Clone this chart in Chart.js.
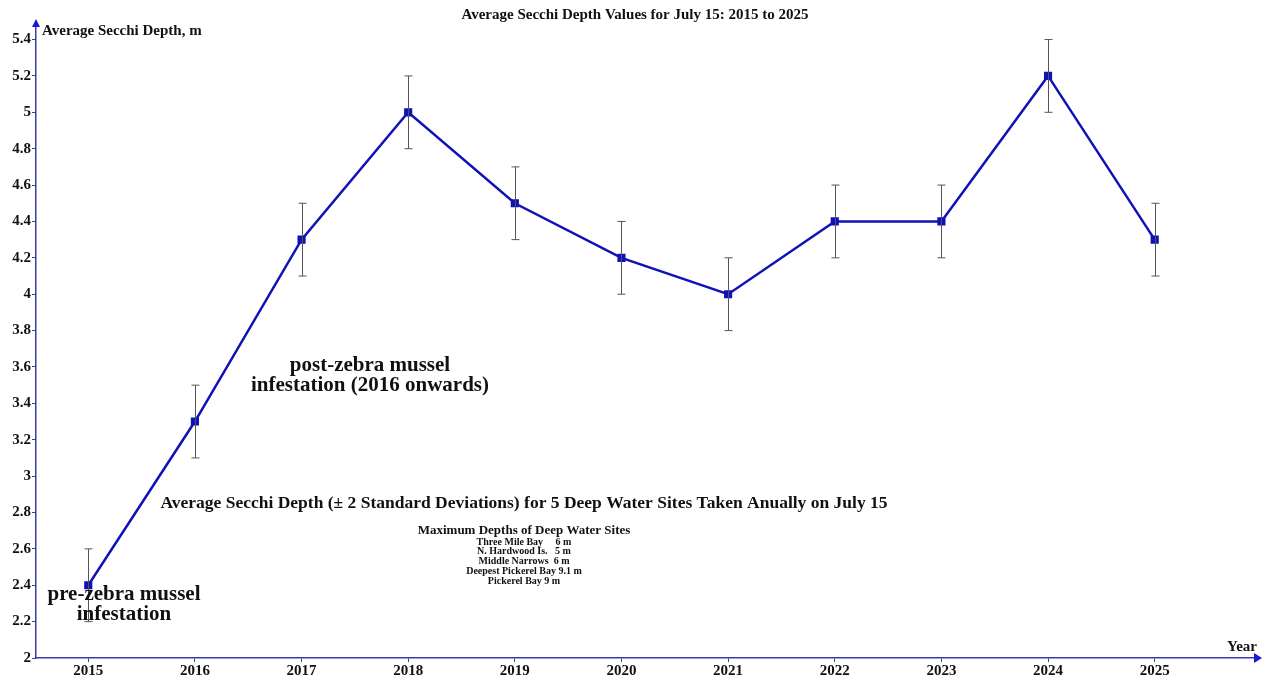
<!DOCTYPE html>
<html>
<head>
<meta charset="utf-8">
<script src="https://cdn.jsdelivr.net/npm/chart.js@4.4.1/dist/chart.umd.min.js"></script>
<style>
  html, body { margin: 0; padding: 0; background: #fff; }
  #wrap { width: 1264px; height: 679px; }
</style>
</head>
<body>
<div id="wrap"><canvas id="secchi" width="1264" height="679"></canvas></div>
<script>
// yearly averages
const years = [2015, 2016, 2017, 2018, 2019, 2020, 2021, 2022, 2023, 2024, 2025];
const depths = [2.4, 3.3, 4.3, 5.0, 4.5, 4.2, 4.0, 4.4, 4.4, 5.2, 4.3];
// half-length of the error bars (2 SD)
const errors = [0.2, 0.2, 0.2, 0.2, 0.2, 0.2, 0.2, 0.2, 0.2, 0.2, 0.2];
const depthTicks = [2, 2.2, 2.4, 2.6, 2.8, 3, 3.2, 3.4, 3.6, 3.8, 4, 4.2, 4.4, 4.6, 4.8, 5, 5.2, 5.4];
const siteLines = [
  "Three Mile Bay     6 m",
  "N. Hardwood Is.   5 m",
  "Middle Narrows  6 m",
  "Deepest Pickerel Bay 9.1 m",
  "Pickerel Bay 9 m"
];

const axisBlue = "#3a3aa8";
const serif = "'Liberation Serif', 'DejaVu Serif', serif";

//error bars, arrows and all the free text
const extras = {
  id: "extras",
  afterDatasetsDraw(chart) {
    const ctx = chart.ctx;
    const xs = chart.scales.x, ys = chart.scales.y;
    ctx.save();
    // error bars
    ctx.strokeStyle = "#555";
    ctx.lineWidth = 1;
    years.forEach((yr, i) => {
      const px = Math.round(xs.getPixelForValue(yr)) + 0.5;
      const top = ys.getPixelForValue(depths[i] + errors[i]);
      const bot = ys.getPixelForValue(depths[i] - errors[i]);
      ctx.beginPath();
      ctx.moveTo(px, top); ctx.lineTo(px, bot);
      ctx.moveTo(px - 4, top); ctx.lineTo(px + 4, top);
      ctx.moveTo(px - 4, bot); ctx.lineTo(px + 4, bot);
      ctx.stroke();
    });
    ctx.restore();
  },
  afterDraw(chart) {
    const ctx = chart.ctx;
    const area = chart.chartArea;
    ctx.save();
    // axis arrows
    ctx.fillStyle = "#1a1ad0";
    ctx.beginPath();
    ctx.moveTo(area.left, area.top - 6);
    ctx.lineTo(area.left - 4, area.top + 2);
    ctx.lineTo(area.left + 4, area.top + 2);
    ctx.closePath(); ctx.fill();
    ctx.beginPath();
    ctx.moveTo(area.right + 6, area.bottom);
    ctx.lineTo(area.right - 2, area.bottom - 5);
    ctx.lineTo(area.right - 2, area.bottom + 5);
    ctx.closePath(); ctx.fill();

    ctx.fillStyle = "#111";
    ctx.textBaseline = "middle";
    // title
    ctx.textAlign = "center";
    ctx.font = "bold 15px " + serif;
    ctx.fillText("Average Secchi Depth Values for July 15: 2015 to 2025", 635, 15);
    // axis titles
    ctx.textAlign = "left";
    ctx.fillText("Average Secchi Depth, m", 42, 31);
    ctx.textAlign = "right";
    ctx.fillText("Year", 1257, 647);

    // annotations
    ctx.textAlign = "center";
    ctx.font = "bold 21px " + serif;
    ctx.fillText("post-zebra mussel", 370, 366);
    ctx.fillText("infestation (2016 onwards)", 370, 386);
    ctx.fillText("pre-zebra mussel", 124, 595);
    ctx.fillText("infestation", 124, 615);

    ctx.font = "bold 17.5px " + serif;
    ctx.fillText("Average Secchi Depth (\u00b1 2 Standard Deviations) for 5 Deep Water Sites Taken Anually on July 15", 524, 503, 732);

    ctx.font = "bold 13px " + serif;
    ctx.fillText("Maximum Depths of Deep Water Sites", 524, 531);
    ctx.font = "bold 10px " + serif;
    siteLines.forEach((t, i) => ctx.fillText(t, 524, 542 + i * 9.8));
    ctx.restore();
  }
};

const tickFont = { family: serif, size: 15, weight: "bold" };

new Chart(document.getElementById("secchi"), {
  type: "line",
  plugins: [extras],
  data: {
    datasets: [{
      data: years.map((y, i) => ({ x: y, y: depths[i] })),
      borderColor: "#1111b8",
      borderWidth: 2.5,
      pointStyle: "rect",
      pointRadius: 4,
      pointBackgroundColor: "#1111b8",
      pointBorderColor: "#1111b8",
      tension: 0
    }]
  },
  options: {
    responsive: false,
    animation: false,
    layout: { padding: { top: 25, right: 8, left: 0, bottom: 0 } },
    plugins: { legend: { display: false }, tooltip: { enabled: false }, title: { display: false } },
    scales: {
      x: {
        type: "linear",
        min: 2014.51,
        max: 2025.95,
        afterBuildTicks: (s) => { s.ticks = years.map(v => ({ value: v })); },
        afterFit: (s) => { s.height = 21; },
        ticks: { color: "#111", font: tickFont, padding: 0, maxRotation: 0, autoSkip: false,
                 callback: (v) => String(v) },
        grid: { drawOnChartArea: false, tickLength: 4, color: axisBlue },
        border: { color: axisBlue, width: 1.5 }
      },
      y: {
        min: 2,
        max: 5.48,
        afterBuildTicks: (s) => { s.ticks = depthTicks.map(v => ({ value: v })); },
        afterFit: (s) => { s.width = 36; },
        ticks: { color: "#111", font: tickFont, padding: 1, autoSkip: false,
                 callback: (v) => String(Math.round(v * 10) / 10) },
        grid: { drawOnChartArea: false, tickLength: 4, color: axisBlue },
        border: { color: axisBlue, width: 1.5 }
      }
    }
  }
});
</script>
</body>
</html>
